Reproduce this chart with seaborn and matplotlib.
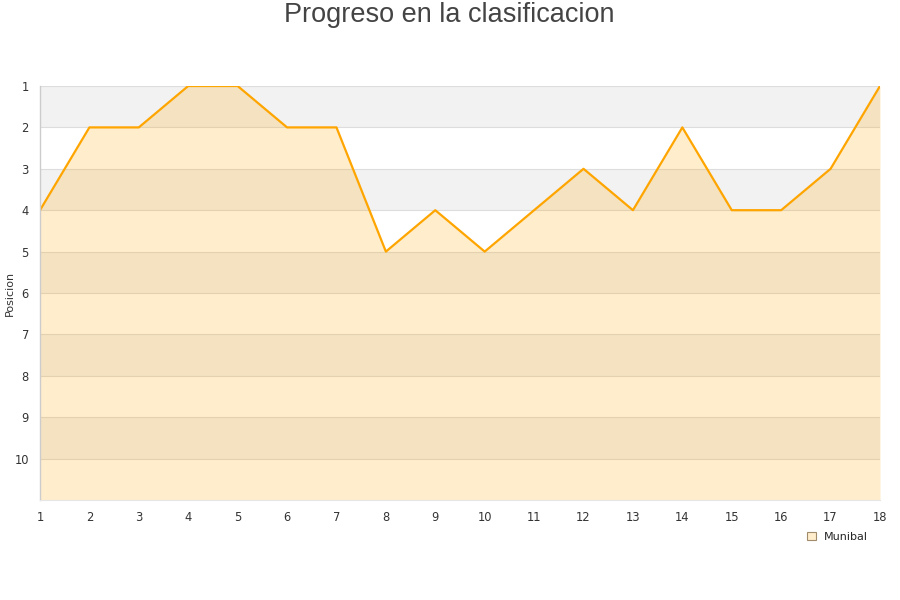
import matplotlib
matplotlib.use("Agg")
import matplotlib.pyplot as plt
import seaborn as sns
import pandas as pd
from matplotlib.patches import Patch

jornadas = list(range(1, 19))
posiciones = [4, 2, 2, 1, 1, 2, 2, 5, 4, 5, 4, 3, 4, 2, 4, 4, 3, 1]
equipo = "Munibal"
titulo = "Progreso en la clasificacion"
y_ticks = list(range(1, 11))

df = pd.DataFrame({"jornada": jornadas, "posicion": posiciones})

sns.set_theme(style="white")
plt.rcParams["font.family"] = ["DejaVu Sans"]

fig = plt.figure(figsize=(9, 6), dpi=100)
ax = fig.add_axes([40 / 900, 100 / 600, 840 / 900, 414 / 600])

# bandas alternas
for y0 in range(1, 11, 2):
    ax.axhspan(y0, y0 + 1, color="#f2f2f2", zorder=0, lw=0)
for y in y_ticks:
    ax.axhline(y, color="#dddddd", lw=0.8, zorder=0.5)

ax.fill_between(df["jornada"], df["posicion"], 11, color="#ffa500", alpha=0.2, lw=0, zorder=1)
sns.lineplot(data=df, x="jornada", y="posicion", color="#ffa500", lw=1.6, ax=ax, zorder=2)

ax.set_xlim(1, 18)
ax.set_ylim(11, 1)
ax.set_xticks(jornadas)
ax.set_yticks(y_ticks)
ax.tick_params(axis="both", labelsize=8.3, colors="#333333", length=0, pad=8)
ax.set_xlabel("")
ax.set_ylabel("Posicion", fontsize=8, color="#333333")
ax.yaxis.set_label_coords(-25 / 840, 0.5)

for s in ["top", "right"]:
    ax.spines[s].set_visible(False)
ax.spines["left"].set_color("#cccccc")
ax.spines["bottom"].set_color("#e6e6e6")
ax.spines["left"].set_linewidth(1)
ax.spines["bottom"].set_linewidth(0.8)

fig.text(0.499, 0.997, titulo, ha="center", va="top", fontsize=19.5,
         color="#444444", family=["Liberation Sans", "DejaVu Sans"])

handle = Patch(facecolor="#ffedcc", edgecolor="#a08c6a", lw=0.8)
fig.legend([handle], [equipo], loc="center left", bbox_to_anchor=(797 / 900, 1 - 537 / 600),
           frameon=False, fontsize=8, handlelength=0.8, handleheight=0.8, handletextpad=0.7)

fig.savefig("out.png", dpi=100)
